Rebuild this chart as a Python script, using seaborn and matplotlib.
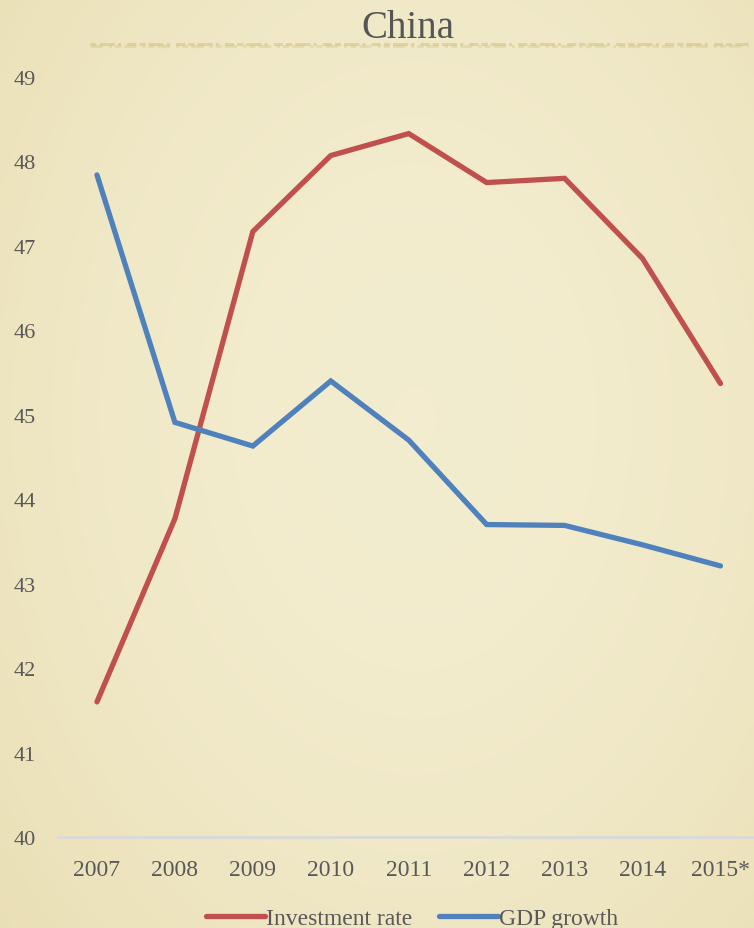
import numpy as np
import pandas as pd
import matplotlib
matplotlib.use("Agg")
import matplotlib.pyplot as plt
import seaborn as sns
from matplotlib.lines import Line2D

years = [2007, 2008, 2009, 2010, 2011, 2012, 2013, 2014, 2015]
year_labels = ["2007", "2008", "2009", "2010", "2011", "2012", "2013", "2014", "2015*"]
investment_rate = [41.60, 43.77, 47.17, 48.07, 48.33, 47.75, 47.80, 46.85, 45.37]
gdp_growth = [47.84, 44.91, 44.63, 45.40, 44.70, 43.70, 43.69, 43.46, 43.21]
series_names = ["Investment rate", "GDP growth"]
series_colors = ["#C0504D", "#4F81BD"]
y_ticks = [40, 41, 42, 43, 44, 45, 46, 47, 48, 49]

df = pd.DataFrame({
    "year": years * 2,
    "value": investment_rate + gdp_growth,
    "series": [series_names[0]] * len(years) + [series_names[1]] * len(years),
})

sns.set_theme(style="white")
plt.rcParams["font.family"] = ["Liberation Serif", "DejaVu Serif"]

W, H = 754, 929
fig = plt.figure(figsize=(W / 100, H / 100), dpi=100)

# parchment backdrop: warm centre fading to slightly darker edges
bg = fig.add_axes([0, 0, 1, 1], zorder=-10)
yy, xx = np.mgrid[0:1:200j, 0:1:160j]
r = np.sqrt(((xx - 0.55) / 0.8) ** 2 + ((yy - 0.45) / 0.9) ** 2)
c0 = np.array([0.953, 0.929, 0.812])
c1 = np.array([0.910, 0.865, 0.690])
t = np.clip(r, 0, 1)[..., None] ** 2
img = c0 * (1 - t) + c1 * t
bg.imshow(img, extent=[0, 1, 0, 1], aspect="auto", interpolation="bicubic")
bg.set_axis_off()

# decorative band under the title
for dy, pattern, a in [(0, (2, 1, 5, 1, 1, 2, 3, 1), 0.55),
                       (2, (4, 2, 1, 1, 2, 1), 0.35)]:
    fig.add_artist(Line2D([90 / W, 748 / W], [1 - (45 + dy) / H, 1 - (45 + dy) / H],
                          transform=fig.transFigure, color="#D2C27E", lw=2.2,
                          dashes=pattern, alpha=a))

ax = fig.add_axes([58 / W, (H - 838) / H, (W - 58) / W, 760 / H])
ax.patch.set_alpha(0)

sns.lineplot(data=df, x="year", y="value", hue="series", hue_order=series_names,
             palette=series_colors, linewidth=3.8, ax=ax, legend=False,
             solid_capstyle="round", solid_joinstyle="miter")

ax.set_ylim(40, 49)
ax.set_xlim(2006.5, 2015.43)
ax.set_yticks(y_ticks)
ax.set_yticklabels([str(v) for v in y_ticks])
ax.set_xticks(years)
ax.set_xticklabels(year_labels)
ax.set_xlabel("")
ax.set_ylabel("")
for s in ["top", "right", "left"]:
    ax.spines[s].set_visible(False)
ax.spines["bottom"].set_color("#D9D9D9")
ax.spines["bottom"].set_linewidth(2)
ax.tick_params(axis="y", length=0, pad=16, labelsize=16, labelcolor="#595959")
ax.tick_params(axis="x", length=0, pad=16, labelsize=17, labelcolor="#595959")
for lbl in ax.get_yticklabels():
    lbl.set_horizontalalignment("right")

fig.text(408 / W, 1 - 38 / H, "China", ha="center", va="baseline",
         fontsize=28, color="#555555")

handles = [Line2D([0], [0], color=c, lw=3.8, solid_capstyle="round") for c in series_colors]
fig.legend(handles, series_names, loc="lower center", bbox_to_anchor=(412 / W, -0.024),
           ncol=2, frameon=False, fontsize=17, handlelength=2.5, handletextpad=0.05,
           columnspacing=1.1, labelcolor="#595959")

fig.savefig("out.png", dpi=100)
